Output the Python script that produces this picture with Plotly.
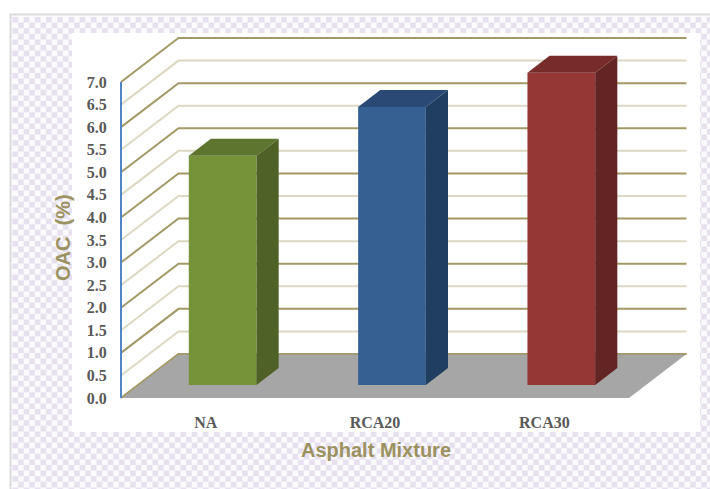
import plotly.graph_objects as go

# Chart data
categories = ["NA", "RCA20", "RCA30"]
oac_values = [5.08, 6.16, 6.92]
front_colors = ["#779339", "#366092", "#953735"]
side_colors = ["#4f6126", "#203f60", "#632523"]
top_colors = ["#5e7530", "#2a4a75", "#772c2a"]
tick_values = [i * 0.5 for i in range(15)]
tick_labels = [f"{v:.1f}" for v in tick_values]

W, H = 710, 489
# Scale of the plot in pixels
X0_PX, CAT_PX = 205.7, 169.33     # centre of first category, category spacing
Y0_PX, UNIT_PX = 398.0, 45.14     # baseline, pixels per OAC unit
DEPTH_X, DEPTH_Y = 57.5, 44.0     # pixel shift from front of the box to its back wall
BAR_W = 0.40                      # in category units
BAR_D0, BAR_D1 = 0.295, 0.68      # bar extent along the depth axis


def px_x(p):
    return (p - X0_PX) / CAT_PX


def px_y(p):
    return (Y0_PX - p) / UNIT_PX


def proj(x, v, d=0.0):
    """Oblique projection of (category, value, depth) into axis units."""
    return x + d * DEPTH_X / CAT_PX, v + d * DEPTH_Y / UNIT_PX


def poly(points):
    xs, ys = zip(*points)
    return list(xs) + [xs[0]], list(ys) + [ys[0]]


fig = go.Figure()


def add_fill(points, color, line_color=None):
    xs, ys = poly(points)
    fig.add_trace(go.Scatter(
        x=xs, y=ys, mode="lines", fill="toself", fillcolor=color,
        line=dict(color=line_color or color, width=0.5 if line_color else 0),
        hoverinfo="skip", showlegend=False))


def add_line(points, color, width):
    xs, ys = zip(*points)
    fig.add_trace(go.Scatter(
        x=xs, y=ys, mode="lines", line=dict(color=color, width=width),
        hoverinfo="skip", showlegend=False))


# Page backdrop: framed checker pattern with a white panel on it
FRAME_L, FRAME_T = 11, 15
add_fill([(px_x(FRAME_L), px_y(FRAME_T)), (px_x(W), px_y(FRAME_T)),
          (px_x(W), px_y(H)), (px_x(FRAME_L), px_y(H))], "#fbfafd")

CELL = 5.6
cx, cy = [], []
row = 0
py = FRAME_T + 2.0
while py < H:
    col = 0
    qx = FRAME_L + 1.5
    while qx < W:
        if (row + col) % 2 == 0:
            x1, x2 = px_x(qx), px_x(min(qx + CELL, W))
            y1, y2 = px_y(py), px_y(min(py + CELL, H))
            cx += [x1, x2, x2, x1, x1, None]
            cy += [y1, y1, y2, y2, y1, None]
        qx += CELL
        col += 1
    py += CELL
    row += 1
fig.add_trace(go.Scatter(x=cx, y=cy, mode="lines", fill="toself", fillcolor="#e7e1ef",
                         line=dict(width=0), hoverinfo="skip", showlegend=False))

add_line([(px_x(FRAME_L - 0.5), px_y(H)), (px_x(FRAME_L - 0.5), px_y(FRAME_T - 0.5)),
          (px_x(W), px_y(FRAME_T - 0.5))], "#dcdcdc", 2)

add_fill([(px_x(72), px_y(33)), (px_x(700), px_y(33)),
          (px_x(700), px_y(432)), (px_x(72), px_y(432))], "#ffffff")

# Wall gridlines: side wall then back wall, heavier on whole numbers
LEFT, RIGHT = px_x(121), px_x(629)
for v in tick_values[::-1]:
    major = float(v).is_integer()
    add_line([proj(LEFT, v, 0), proj(LEFT, v, 1), proj(RIGHT, v, 1)],
             "#a39967" if major else "#dcd8c3", 2)

# Floor of the box
add_fill([proj(LEFT, 0, 0), proj(RIGHT, 0, 0), proj(RIGHT, 0, 1), proj(LEFT, 0, 1)], "#a6a6a6")
add_line([proj(LEFT, 0, 0), proj(LEFT, 0, 1), proj(RIGHT, 0, 1)], "#a39967", 1.5)

# Value axis line
add_line([proj(LEFT, 0), proj(LEFT, max(tick_values))], "#4f86c6", 2)

# Bars: front, top and side faces, all derived from the values
for i, v in enumerate(oac_values):
    l, r = i - BAR_W / 2, i + BAR_W / 2
    base = 0.0
    add_fill([proj(l, base, BAR_D0), proj(r, base, BAR_D0),
              proj(r, v, BAR_D0), proj(l, v, BAR_D0)], front_colors[i])
    add_fill([proj(l, v, BAR_D0), proj(r, v, BAR_D0),
              proj(r, v, BAR_D1), proj(l, v, BAR_D1)], top_colors[i])
    add_fill([proj(r, base, BAR_D0), proj(r, base, BAR_D1),
              proj(r, v, BAR_D1), proj(r, v, BAR_D0)], side_colors[i])

fig.update_layout(
    width=W, height=H, margin=dict(l=0, r=0, t=0, b=0),
    paper_bgcolor="#ffffff", plot_bgcolor="#ffffff", showlegend=False,
    xaxis=dict(
        range=[px_x(0), px_x(W)], domain=[0, 1], showgrid=False, zeroline=False,
        showline=False, tickmode="array", tickvals=list(range(len(categories))),
        ticktext=categories, ticks="outside", ticklen=10, tickcolor="rgba(0,0,0,0)",
        tickfont=dict(family="Liberation Serif", size=16, color="#595959", weight="bold"),
        anchor="free", position=(H - Y0_PX) / H),
    yaxis=dict(
        range=[px_y(H), px_y(0)], domain=[0, 1], showgrid=False, zeroline=False,
        showline=False, tickmode="array", tickvals=tick_values, ticktext=tick_labels,
        ticks="outside", ticklen=11, tickcolor="rgba(0,0,0,0)",
        tickfont=dict(family="Liberation Serif", size=16, color="#595959", weight="bold"),
        anchor="free", position=121 / W),
    annotations=[
        dict(text="Asphalt Mixture", xref="paper", yref="paper", x=375.5 / W, y=1 - 450 / H,
             showarrow=False, xanchor="center", yanchor="middle",
             font=dict(family="Liberation Sans", size=20, color="#9c9260", weight="bold")),
        dict(text="OAC  (%)", xref="paper", yref="paper", x=63 / W, y=1 - 238 / H, textangle=-90,
             showarrow=False, xanchor="center", yanchor="middle",
             font=dict(family="Liberation Sans", size=20, color="#9c9260", weight="bold")),
    ],
)

fig.write_html("out.html", config={"displayModeBar": False})
